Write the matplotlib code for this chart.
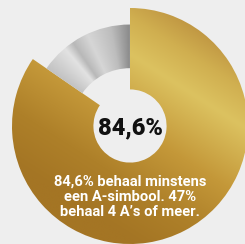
import matplotlib.pyplot as plt
import numpy as np
from matplotlib.colors import LinearSegmentedColormap

# ── Data ──────────────────────────────────────────────
shares = [84.6, 15.4]
share_names = ["minstens een A", "geen A"]
center_label = "84,6%"
caption_lines = [
    "84,6% behaal minstens",
    "een A-simbool. 47%",
    "behaal 4 A\u2019s of meer.",
]

BG = "#eeeeee"
# gold: linear sheen across the ring (darker lower-left, bright band upper-right)
GOLD = LinearSegmentedColormap.from_list(
    "gold", [(0.00, "#a47524"), (0.20, "#ae8029"), (0.42, "#c49839"),
             (0.68, "#dcc260"), (0.82, "#d0af50"), (1.00, "#b88a3b")])
# silver: conic sheen along the small ring
SILVER = LinearSegmentedColormap.from_list(
    "silver", [(0.00, "#c2c2c2"), (0.28, "#e2e2e2"), (0.38, "#b8b8b8"),
               (0.55, "#d6d6d6"), (0.80, "#bdbdbd"), (1.00, "#8a8a8a")])

plt.rcParams["font.family"] = ["Roboto", "DejaVu Sans"]

fig = plt.figure(figsize=(2.45, 2.44), dpi=100, facecolor=BG)
ax = fig.add_axes([0, 0, 1, 1])
ax.set_facecolor(BG)

wedges, _ = ax.pie(shares, startangle=90, counterclock=False, radius=1.0,
                   wedgeprops=dict(width=0.69, linewidth=0))
# the remainder ring is thinner and sits inside the gold one
wedges[1].set_radius(0.86)
wedges[1].set_width(0.37)

xs = np.linspace(-1.15, 1.0, 400)
ys = np.linspace(-1.05, 1.1, 400)
X, Y = np.meshgrid(xs, ys)
ext = (xs[0], xs[-1], ys[0], ys[-1])

# gold fill
s = 0.64 * X + Y
t_gold = np.clip((s + 0.95) / 2.3, 0, 1)
wedges[0].set_facecolor("none")
im = ax.imshow(t_gold, cmap=GOLD, vmin=0, vmax=1, origin="lower", extent=ext,
               interpolation="bilinear", zorder=1)
im.set_clip_path(wedges[0])

# silver fill
ang = np.mod(90 - np.degrees(np.arctan2(Y, X)), 360) / 360  # clockwise from top
start = shares[0] / sum(shares)
t_silver = np.clip((ang - start) / (1 - start), 0, 1)
wedges[1].set_facecolor("none")
im = ax.imshow(t_silver, cmap=SILVER, vmin=0, vmax=1, origin="lower", extent=ext,
               interpolation="bilinear", zorder=1)
im.set_clip_path(wedges[1])

ax.text(0.0, -0.02, center_label, ha="center", va="center", fontsize=17,
        fontweight="heavy", color="#111111", zorder=3)
ax.text(0.0, -0.6, "\n".join(caption_lines), ha="center", va="center",
        fontsize=10.6, fontweight="bold", color="white", linespacing=1.1, zorder=3)

ax.set_xlim(-130 / 118, 115 / 118)
ax.set_ylim(-118 / 118, 126 / 118)
ax.set_aspect("equal")
ax.axis("off")

fig.savefig("out.png", dpi=100, facecolor=BG)
